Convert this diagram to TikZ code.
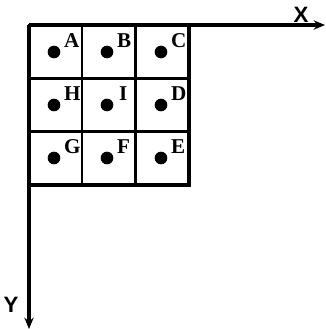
\documentclass[tikz,border=0pt]{standalone}
\usepackage{fontspec}
\setmainfont{Liberation Serif}
\newfontfamily\axisfont{Liberation Sans}
\usetikzlibrary{arrows.meta, positioning}
\tikzset{
  cell/.style={rectangle, draw=black, line width=2pt, minimum size=1.59cm, inner sep=0pt},
  spot/.style={circle, fill=black, minimum size=0.38cm, inner sep=0pt},
  tag/.style={font=\bfseries\fontsize{18}{20}\selectfont, inner sep=0pt, anchor=south west},
  axis/.style={-{Stealth[length=3.4mm, width=2.8mm]}, line width=3pt},
  axlabel/.style={font=\axisfont\bfseries\fontsize{19}{21}\selectfont, inner sep=0pt}
}
\begin{document}
\begin{tikzpicture}[x=0.03cm, y=-0.03cm]
  \useasboundingbox (0,0) rectangle (325,329);
  % grid of cells
  \node[cell] (c11) at (55.5,52)  {}; \node[cell] (c12) at (108.5,52)  {}; \node[cell] (c13) at (162,52)  {};
  \node[cell] (c21) at (55.5,105.5) {}; \node[cell] (c22) at (108.5,105.5) {}; \node[cell] (c23) at (162,105.5) {};
  \node[cell] (c31) at (55.5,158) {}; \node[cell] (c32) at (108.5,158) {}; \node[cell] (c33) at (162,158) {};
  \draw[line width=2.6pt] (c13.north east) |- (c31.south west);
  % points
  \node[spot] (pA) at (54,52)  {};  \node[tag] (lA) at (64,48)  {A};
  \node[spot] (pB) at (107,52) {};  \node[tag] (lB) at (117,48) {B};
  \node[spot] (pC) at (161,52) {};  \node[tag] (lC) at (171,48) {C};
  \node[spot] (pH) at (54,105) {};  \node[tag] (lH) at (64,101) {H};
  \node[spot] (pI) at (107,105) {}; \node[tag] (lI) at (119,101) {I};
  \node[spot] (pD) at (161,105) {}; \node[tag] (lD) at (171,101) {D};
  \node[spot] (pG) at (54,158) {};  \node[tag] (lG) at (64,154) {G};
  \node[spot] (pF) at (107,158) {}; \node[tag] (lF) at (117,154) {F};
  \node[spot] (pE) at (161,158) {}; \node[tag] (lE) at (171,154) {E};
  % axes
  \coordinate (o) at (29,25);
  \coordinate (xend) at (325,25);
  \coordinate (yend) at (29,329);
  \draw[axis] (o) -- (xend);
  \draw[axis] (o) -- (yend);
  \node[axlabel] (xl) at (301,15) {X};
  \node[axlabel] (yl) at (11,305) {Y};
\end{tikzpicture}
\end{document}
